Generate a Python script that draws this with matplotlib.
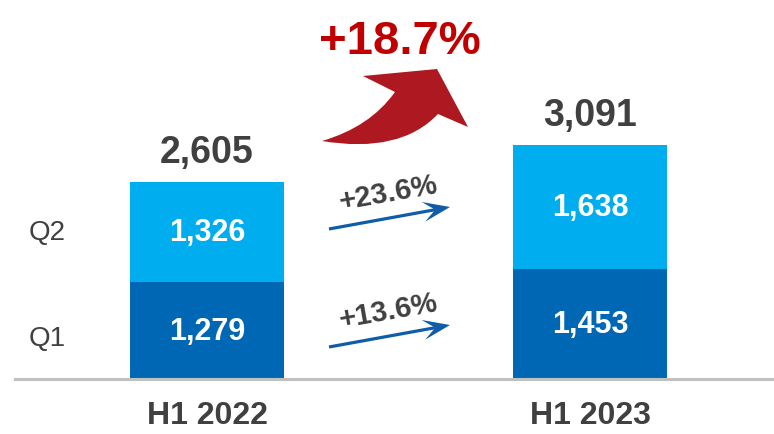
import numpy as np
import matplotlib.pyplot as plt
from matplotlib import font_manager
from matplotlib.path import Path
from matplotlib.patches import PathPatch, Polygon

# data
periods = ['H1 2022', 'H1 2023']
q1 = np.array([1279, 1453])
q2 = np.array([1326, 1638])
q1_growth = '+13.6%'
q2_growth = '+23.6%'
total_growth = '+18.7%'
quarters = ['Q1', 'Q2']

names = {f.name for f in font_manager.fontManager.ttflist}
base_font = 'Liberation Sans' if 'Liberation Sans' in names else 'DejaVu Sans'
narrow_font = 'Liberation Sans Narrow' if 'Liberation Sans Narrow' in names else base_font
plt.rcParams['font.family'] = base_font

dark_blue = '#0067b4'
light_blue = '#00aeef'
grey_txt = '#404040'
arrow_blue = '#0f5ca8'

W, H = 774, 435
fig = plt.figure(figsize=(W / 100, H / 100), dpi=100)

# main axes: baseline at 380 px from top, 0.0756 px per unit
scale = 0.0756
ax = fig.add_axes([0, (H - 380) / H, 1, 380 / H])
ax.set_ylim(0, 380 / scale)
ax.set_xlim(-207 / 383, (774 - 207) / 383)
ax.axis('off')

x = np.arange(len(periods))
width = 154 / 383
totals = q1 + q2
ax.bar(x, q1, width, color=dark_blue)
ax.bar(x, q2, width, bottom=q1, color=light_blue)
ax.plot([(15 - 207) / 383, (774 - 207) / 383], [0, 0], color='#c0c0c0', lw=2.2, clip_on=False)

for i in range(len(periods)):
    ax.text(x[i], q1[i] / 2, f'{q1[i]:,}', ha='center', va='center', color='white',
            fontsize=22, fontweight='bold')
    ax.text(x[i], q1[i] + q2[i] / 2, f'{q2[i]:,}', ha='center', va='center', color='white',
            fontsize=22, fontweight='bold')
    ax.text(x[i], totals[i] + 400, f'{totals[i]:,}', ha='center', va='center', color=grey_txt,
            fontsize=27, fontweight='bold')
    ax.text(x[i], -470, periods[i], ha='center', va='center', color=grey_txt,
            fontsize=23, fontweight='bold', family=narrow_font)

# quarter labels on the left
ax.text(-0.418, q1[0] / 2 - 100, quarters[0], ha='center', va='center', color=grey_txt, fontsize=20)
ax.text(-0.418, q1[0] + q2[0] / 2, quarters[1], ha='center', va='center', color=grey_txt, fontsize=20)

# overlay in pixel coords for arrows
ov = fig.add_axes([0, 0, 1, 1])
ov.set_xlim(0, W)
ov.set_ylim(H, 0)
ov.axis('off')


def stealth_arrow(p0, p1):
    p0, p1 = np.array(p0, float), np.array(p1, float)
    u = (p1 - p0) / np.linalg.norm(p1 - p0)
    n = np.array([-u[1], u[0]])
    notch = p1 - 15 * u
    ov.plot([p0[0], notch[0]], [p0[1], notch[1]], color=arrow_blue, lw=2.3, solid_capstyle='butt')
    head = [p1, p1 - 27 * u + 10 * n, notch, p1 - 27 * u - 10 * n]
    ov.add_patch(Polygon(head, closed=True, facecolor=arrow_blue, edgecolor='none'))


for y0, lab in [(230, q2_growth), (348, q1_growth)]:
    stealth_arrow((329, y0), (450, y0 - 22))
    ov.text(388, y0 - 37, lab, ha='center', va='center', rotation=10, color=grey_txt,
            fontsize=21, fontweight='bold', rotation_mode='anchor')

# big red curved arrow
verts = [(322, 142), (370, 128), (395, 93),
         (363, 77), (437, 70), (468, 128), (438, 115),
         (400, 155), (322, 142), (322, 142)]
codes = [Path.MOVETO, Path.CURVE3, Path.CURVE3,
         Path.LINETO, Path.LINETO, Path.LINETO, Path.LINETO,
         Path.CURVE3, Path.CURVE3, Path.CLOSEPOLY]
ov.add_patch(PathPatch(Path(verts, codes), facecolor='#ae1820', edgecolor='none'))
ov.text(400, 42, total_growth, ha='center', va='center', color='#c00000',
        fontsize=34, fontweight='bold')

fig.savefig('out.png', dpi=100)
